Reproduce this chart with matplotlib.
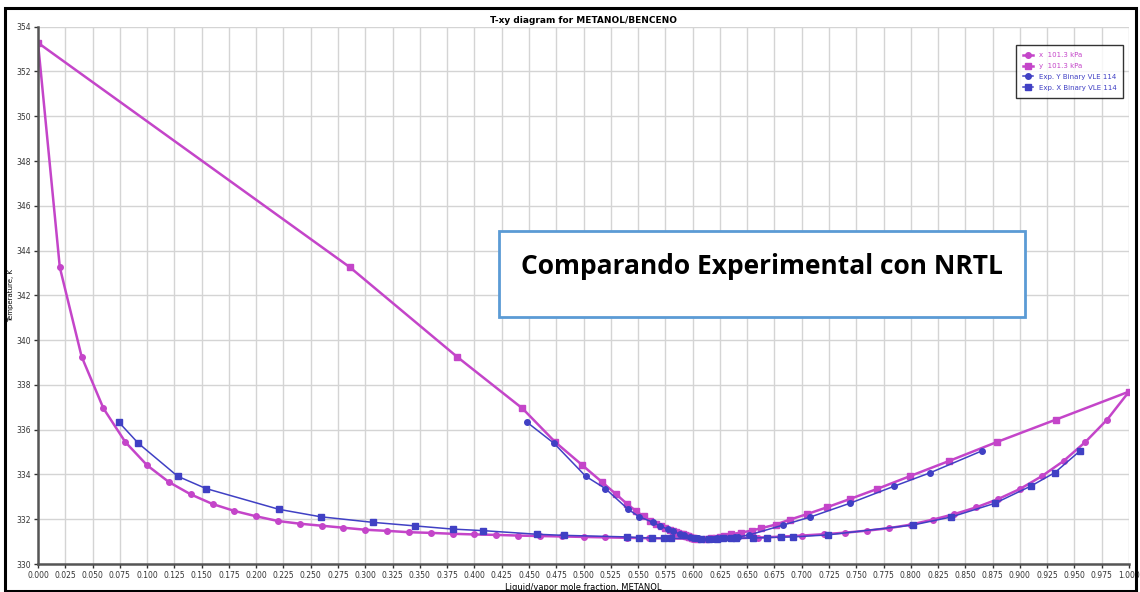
import numpy as np
import matplotlib
matplotlib.use("Agg")
import matplotlib.pyplot as plt
from matplotlib.patches import Rectangle

# NRTL model, 101.3 kPa
x_model = [0.00, 0.02, 0.04, 0.06, 0.08, 0.10, 0.12, 0.14, 0.16, 0.18,
           0.20, 0.22, 0.24, 0.26, 0.28, 0.30, 0.32, 0.34, 0.36, 0.38,
           0.40, 0.42, 0.44, 0.46, 0.48, 0.50, 0.52, 0.54, 0.56, 0.58,
           0.60, 0.62, 0.64, 0.66, 0.68, 0.70, 0.72, 0.74, 0.76, 0.78,
           0.80, 0.82, 0.84, 0.86, 0.88, 0.90, 0.92, 0.94, 0.96, 0.98, 1.00]
T_model = [353.28, 343.25, 339.26, 336.95, 335.45, 334.41, 333.66, 333.11, 332.68, 332.37,
           332.13, 331.92, 331.80, 331.71, 331.62, 331.53, 331.48, 331.42, 331.39, 331.35,
           331.32, 331.30, 331.27, 331.25, 331.23, 331.21, 331.19, 331.17, 331.15, 331.14,
           331.13, 331.13, 331.15, 331.18, 331.22, 331.27, 331.33, 331.40, 331.49, 331.60,
           331.76, 331.98, 332.23, 332.53, 332.90, 333.35, 333.92, 334.60, 335.45, 336.45, 337.70]
y_model = [0.000, 0.286, 0.384, 0.444, 0.474, 0.499, 0.517, 0.530, 0.540, 0.548,
           0.555, 0.561, 0.566, 0.571, 0.575, 0.579, 0.582, 0.585, 0.587, 0.589,
           0.591, 0.593, 0.594, 0.595, 0.596, 0.597, 0.598, 0.599, 0.600, 0.601,
           0.604, 0.612, 0.617, 0.621, 0.625, 0.629, 0.635, 0.644, 0.654, 0.663,
           0.676, 0.689, 0.705, 0.723, 0.744, 0.769, 0.799, 0.835, 0.879, 0.933, 1.000]

# experimental data, Binary VLE 114
x_exp = [0.074, 0.092, 0.128, 0.154, 0.221, 0.259, 0.307, 0.346, 0.380, 0.408,
         0.457, 0.482, 0.540, 0.551, 0.563, 0.574, 0.580, 0.608, 0.615, 0.622,
         0.628, 0.635, 0.640, 0.655, 0.668, 0.681, 0.692, 0.724, 0.802, 0.837,
         0.877, 0.910, 0.932, 0.955]
y_exp = [0.448, 0.473, 0.502, 0.520, 0.541, 0.551, 0.564, 0.570, 0.577, 0.582,
         0.588, 0.592, 0.598, 0.600, 0.602, 0.604, 0.605, 0.609, 0.614, 0.619,
         0.622, 0.626, 0.628, 0.633, 0.636, 0.639, 0.642, 0.652, 0.683, 0.708,
         0.744, 0.785, 0.818, 0.865]
T_exp = [336.34, 335.39, 333.92, 333.37, 332.44, 332.11, 331.86, 331.70, 331.56, 331.49,
         331.33, 331.28, 331.21, 331.18, 331.16, 331.15, 331.15, 331.12, 331.13, 331.13,
         331.14, 331.15, 331.15, 331.16, 331.18, 331.20, 331.21, 331.30, 331.74, 332.10,
         332.71, 333.48, 334.08, 335.05]

pink = '#c445c9'
blue = '#4040c4'

fig = plt.figure(figsize=(11.4, 5.92), dpi=100)
ax = fig.add_axes([38/1140, 1-564/592, 1091/1140, 537.3/592])

ax.plot(x_model, T_model, color=pink, lw=1.8, marker='o', markersize=4, label='x  101.3 kPa')
ax.plot(y_model, T_model, color=pink, lw=1.8, marker='s', markersize=4, label='y  101.3 kPa')
ax.plot(y_exp, T_exp, color=blue, lw=1.1, marker='o', markersize=4, label='Exp. Y Binary VLE 114')
ax.plot(x_exp, T_exp, color=blue, lw=1.1, marker='s', markersize=4, label='Exp. X Binary VLE 114')

ax.set_xlim(0, 1)
ax.set_ylim(330, 354)
ax.set_xticks(np.arange(0, 1.0001, 0.025))
ax.set_xticklabels([f'{v:.3f}' for v in np.arange(0, 1.0001, 0.025)])
ax.set_yticks(np.arange(330, 355, 2))
ax.tick_params(labelsize=5.5, colors='#333333', length=3, width=1, pad=2)
ax.grid(True, color='#d4d4d4', lw=1)
ax.set_axisbelow(True)
for s in ['top', 'right']:
    ax.spines[s].set_visible(False)
for s in ['left', 'bottom']:
    ax.spines[s].set_color('#555555')
    ax.spines[s].set_linewidth(1.8)

ax.set_title('T-xy diagram for METANOL/BENCENO', fontsize=6.5, fontweight='bold', pad=3)
ax.set_xlabel('Liquid/vapor mole fraction, METANOL', fontsize=6, labelpad=2)
ax.set_ylabel('Temperature, K', fontsize=5)
ax.yaxis.set_label_coords(-0.022, 0.5)

leg = ax.legend(loc='upper right', bbox_to_anchor=(0.998, 0.972), fontsize=5,
                frameon=True, fancybox=False, edgecolor='black', borderpad=1.0,
                handlelength=1.5, handletextpad=0.8, labelspacing=0.7)
leg.get_frame().set_linewidth(1.0)
for t, c in zip(leg.get_texts(), [pink, pink, blue, blue]):
    t.set_color(c)

# annotation box
fig.patches.append(Rectangle((499/1140, 1-317/592), 526/1140, 86/592, transform=fig.transFigure,
                             facecolor='white', edgecolor='#5b9bd5', lw=2, zorder=5))
fig.text(762/1140, 1-267/592, 'Comparando Experimental con NRTL', fontsize=19, fontweight='bold',
         family=['Open Sans', 'DejaVu Sans'], ha='center', va='center', zorder=6)

# outer frame
fig.patches.append(Rectangle((5/1140, 1/592), 1131/1140, 583/592, transform=fig.transFigure,
                             facecolor='none', edgecolor='black', lw=2.2))

fig.savefig('out.png', dpi=100)
